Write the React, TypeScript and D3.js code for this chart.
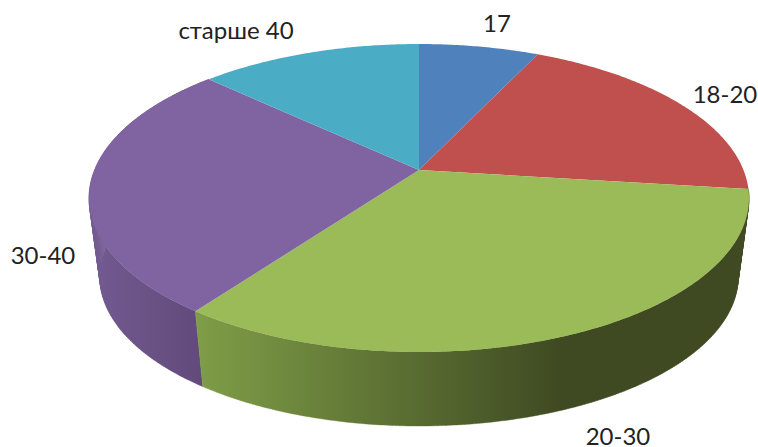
import * as d3 from 'd3';

const categories = ['17', '18-20', '20-30', '30-40', 'старше 40'];
const values = [7, 20, 33, 27, 13];
const colors = ['#4f81bd', '#c0504d', '#9bbb59', '#8064a2', '#4bacc6'];

const width = 758;
const height = 447;

// label anchors, same order as categories
const labelPos = [
  [497, 32],
  [725, 103],
  [618, 445],
  [43, 264],
  [236, 39],
];

// perspective projection of a flat disc, far edge is squeezed
const cx = 419;
const cy = 170;
const persp = 0.1818;
const radX = 324.5;
const radY = 148.9;

function project(angle: number, s = 1, dy = 0): [number, number] {
  const u = Math.sin(angle);
  const v = Math.cos(angle);
  const w = 1 + persp * v;
  return [cx + (s * radX * u) / w, cy + dy - (s * radY * v) / w];
}

const slices = d3.pie<number>().sort(null)(values);
const line = d3.line();
const rimScale = 0.967;
const rimDrop = 80;

function arcAngles(a0: number, a1: number) {
  const n = Math.max(2, Math.ceil((a1 - a0) / 0.01));
  return d3.range(n + 1).map((i) => a0 + ((a1 - a0) * i) / n);
}

function topPath(a0: number, a1: number) {
  return line([[cx, cy], ...arcAngles(a0, a1).map((a) => project(a))]) + 'Z';
}

// side wall: one quad per step so the silhouette comes out as a hull
function sidePath(a0: number, a1: number) {
  const pts = arcAngles(a0, a1);
  return pts
    .slice(1)
    .map((a, i) => {
      const b = pts[i];
      return (
        line([
          project(b),
          project(a),
          project(a, rimScale, rimDrop),
          project(b, rimScale, rimDrop),
        ]) + 'Z'
      );
    })
    .join('');
}

export default function App() {
  return (
    <svg
      width={width}
      height={height}
      style={{ position: 'absolute', left: 0, top: 0 }}
    >
      <defs>
        <linearGradient id="sideGreen" gradientUnits="userSpaceOnUse" x1={195} y1={0} x2={560} y2={0}>
          <stop offset="0%" stopColor="#7f9e47" />
          <stop offset="50%" stopColor="#5f7435" />
          <stop offset="100%" stopColor="#3f4a22" />
        </linearGradient>
        <linearGradient id="sidePurple" gradientUnits="userSpaceOnUse" x1={90} y1={0} x2={200} y2={0}>
          <stop offset="0%" stopColor="#735a91" />
          <stop offset="100%" stopColor="#624b7b" />
        </linearGradient>
      </defs>
      <g shapeRendering="geometricPrecision">
        <path d={sidePath(slices[3].startAngle, slices[3].endAngle)} fill="url(#sidePurple)" stroke="url(#sidePurple)" strokeWidth={0.4} />
        <path d={sidePath(slices[2].startAngle, slices[2].endAngle)} fill="url(#sideGreen)" stroke="url(#sideGreen)" strokeWidth={0.4} />
        {slices.map((d, i) => (
          <path key={categories[i]} d={topPath(d.startAngle, d.endAngle)} fill={colors[i]} />
        ))}
      </g>
      {categories.map((c, i) => (
        <text
          key={c}
          x={labelPos[i][0]}
          y={labelPos[i][1]}
          textAnchor="middle"
          fontFamily="Lato, 'Open Sans', sans-serif"
          fontSize={24}
          fill="#222"
        >
          {c}
        </text>
      ))}
    </svg>
  );
}
